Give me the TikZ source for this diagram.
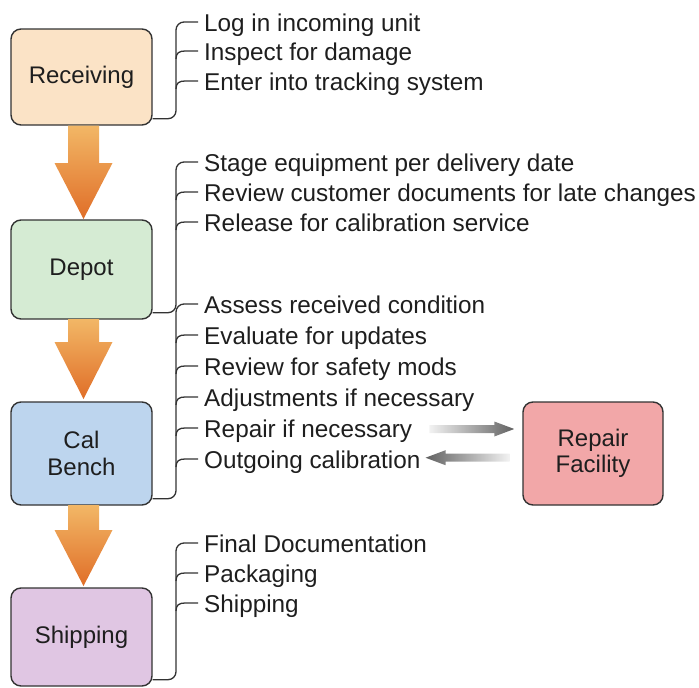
\documentclass[tikz,border=0pt]{standalone}
\usepackage{fontspec}
\setmainfont{Liberation Sans}
\usetikzlibrary{calc}
\definecolor{recvfill}{HTML}{FBE3C6}
\definecolor{depotfill}{HTML}{D5EBD3}
\definecolor{calfill}{HTML}{BDD5EE}
\definecolor{shipfill}{HTML}{E0C6E3}
\definecolor{repfill}{HTML}{F2A7A8}
\definecolor{orngL}{HTML}{F2B766}
\definecolor{orngD}{HTML}{E06E28}
\definecolor{edge}{HTML}{333333}
\definecolor{txt}{HTML}{1E1E1E}
\begin{document}
\begin{tikzpicture}[x=1pt,y=-1pt,
  stage/.style={draw=edge, line width=1.4pt, rounded corners=10pt, minimum width=141pt,
    align=center, font=\fontsize{24}{26.5}\selectfont, text=txt, inner sep=2pt},
  item/.style={anchor=base west, font=\fontsize{24.3}{28}\selectfont, inner sep=0pt, text=txt},
  brace/.style={draw=edge, line width=1.3pt, rounded corners=8pt},
  tick/.style={draw=edge, line width=1.3pt},
]
\useasboundingbox (0,0) rectangle (699,688);

% stage boxes
\node[stage, fill=recvfill, minimum height=96pt] (recv) at (81.5,77) {Receiving};
\node[stage, fill=depotfill, minimum height=99pt] (depot) at (81.5,269.5) {Depot};
\node[stage, fill=calfill, minimum height=103pt] (cal) at (81.5,453.5) {Cal\\Bench};
\node[stage, fill=shipfill, minimum height=98pt] (ship) at (81.5,637) {Shipping};
\node[stage, fill=repfill, minimum height=103pt, minimum width=140pt] (rep) at (593,453.5) {Repair\\Facility};

% orange block arrows
\newcommand\flowarrow[3]{% top y, head y, tip y
  \shade[top color=orngL, bottom color=orngD]
    (68,#1) -- (99,#1) -- (99,#2) -- (112.5,#2) -- (83.5,#3) -- (54.5,#2) -- (68,#2) -- cycle;}
\flowarrow{125.5}{163}{219}
\flowarrow{319}{342}{399}
\flowarrow{505}{530}{586}

% items
\node[item] (r1) at (204,31) {Log in incoming unit};
\node[item] (r2) at (204,60) {Inspect for damage};
\node[item] (r3) at (204,90) {Enter into tracking system};

\node[item] (d1) at (204,171) {Stage equipment per delivery date};
\node[item] (d2) at (204,201) {Review customer documents for late changes};
\node[item] (d3) at (204,231) {Release for calibration service};

\node[item] (c1) at (204,313) {Assess received condition};
\node[item] (c2) at (204,344) {Evaluate for updates};
\node[item] (c3) at (204,375) {Review for safety mods};
\node[item] (c4) at (204,406) {Adjustments if necessary};
\node[item] (c5) at (204,437) {Repair if necessary};
\node[item] (c6) at (204,468) {Outgoing calibration};

\node[item] (s1) at (204,552) {Final Documentation};
\node[item] (s2) at (204,582) {Packaging};
\node[item] (s3) at (204,612) {Shipping};

% brackets
\newcommand\mainbrace[2]{% box, first item
  \draw[brace] ($(#1.south east)+(0,-7)$) -| ($(#2.base west)+(-28,-9)$) -- ($(#2.base west)+(-6,-9)$);}
\newcommand\subtick[1]{%
  \draw[tick] ($(#1.base west)+(-28,-1)$) .. controls ($(#1.base west)+(-28,-7)$) and ($(#1.base west)+(-25,-9)$) .. ($(#1.base west)+(-19,-9)$) -- ($(#1.base west)+(-6,-9)$);}
\mainbrace{recv}{r1}
\subtick{r2}\subtick{r3}
\mainbrace{depot}{d1}
\subtick{d2}\subtick{d3}
\mainbrace{cal}{c1}
\subtick{c2}\subtick{c3}\subtick{c4}\subtick{c5}\subtick{c6}
\mainbrace{ship}{s1}
\subtick{s2}\subtick{s3}

% gray arrows to/from repair facility
\coordinate (ra) at ($(rep.west)+(-8,-24.5)$);
\shade[left color=gray!10, right color=black!62]
  ($(ra)+(-85,-4)$) -- ($(ra)+(-20,-4)$) -- ($(ra)+(-20,-7.5)$) -- (ra) -- ($(ra)+(-20,7.5)$) -- ($(ra)+(-20,4)$) -- ($(ra)+(-85,4)$) -- cycle;
\coordinate (lt) at ($(c6.east)+(5,-4)$);
\shade[left color=black!62, right color=gray!10]
  ($(lt)+(84,-4)$) -- ($(lt)+(20,-4)$) -- ($(lt)+(20,-7.5)$) -- (lt) -- ($(lt)+(20,7.5)$) -- ($(lt)+(20,4)$) -- ($(lt)+(84,4)$) -- cycle;
\end{tikzpicture}
\end{document}
